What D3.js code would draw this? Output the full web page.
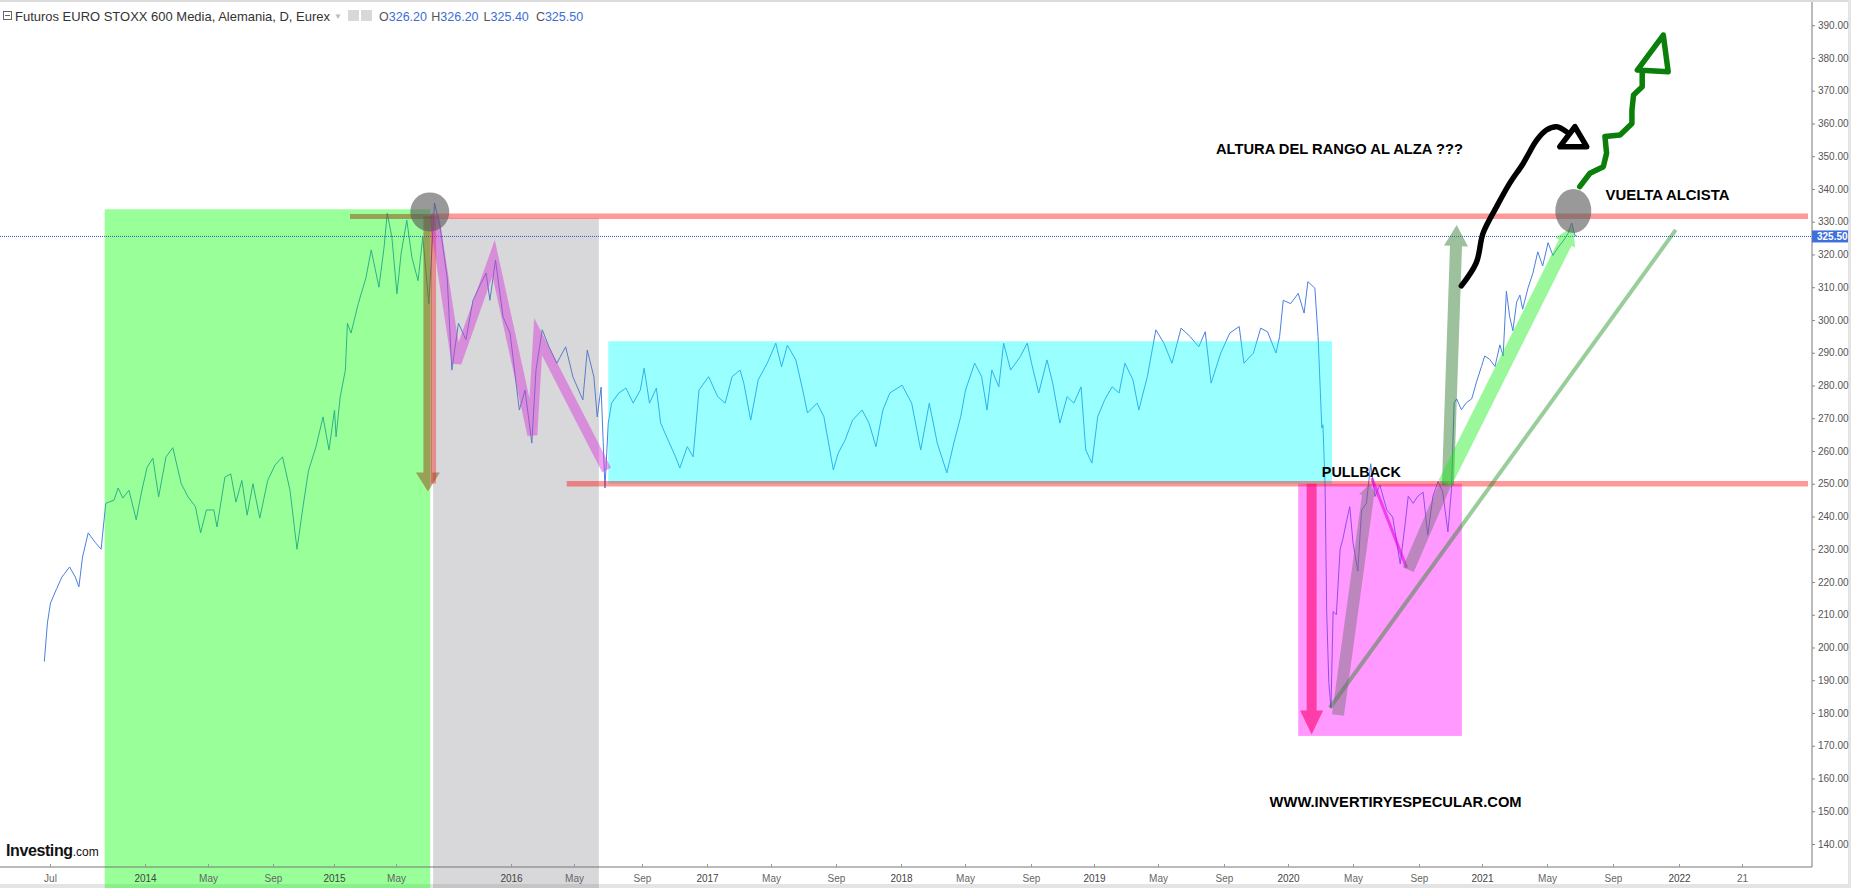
<!DOCTYPE html>
<html>
<head>
<meta charset="utf-8">
<script src="https://cdn.jsdelivr.net/npm/d3@7"></script>
<style>
  html, body { margin: 0; padding: 0; background: #fff; overflow: hidden; }
  svg { display: block; font-family: "Liberation Sans", Arial, sans-serif; }
</style>
</head>
<body>
<svg id="chart" width="1851" height="888"></svg>
<script>
// ---- values ----
const closes = [
  ["2013-06-20",195.7],["2013-06-26",207.5],["2013-07-02",213.6],["2013-07-14",218],["2013-07-24",221.5],
  ["2013-08-08",224.6],["2013-08-19",221.5],["2013-08-26",218.5],["2013-09-02",227.6],["2013-09-13",235],
  ["2013-09-27",232],["2013-10-08",230],["2013-10-17",244],["2013-11-02",245],["2013-11-10",248.7],
  ["2013-11-19",245.6],["2013-12-01",248],["2013-12-15",239],["2013-12-26",248],["2014-01-05",255],
  ["2014-01-16",257.8],["2014-01-27",246],["2014-02-10",258.2],["2014-02-23",261],["2014-03-11",250],
  ["2014-03-24",246],["2014-04-07",243],["2014-04-17",235],["2014-04-28",242],["2014-05-12",242],
  ["2014-05-18",236.8],["2014-06-02",252],["2014-06-13",253],["2014-06-23",244.4],["2014-07-04",251],
  ["2014-07-14",240.4],["2014-07-25",250],["2014-08-07",239.5],["2014-08-22",251],["2014-09-05",255.7],
  ["2014-09-20",258.2],["2014-10-05",248],["2014-10-19",230],["2014-10-31",243],["2014-11-11",254],
  ["2014-11-26",261.3],["2014-12-10",270.4],["2014-12-22",260.3],["2015-01-02",272.5],["2015-01-05",264.3],
  ["2015-01-13",276.5],["2015-01-23",284.7],["2015-01-27",299],["2015-02-03",296],["2015-02-17",305],
  ["2015-03-04",313],["2015-03-14",321.4],["2015-03-29",310],["2015-04-08",322.3],["2015-04-14",332.6],
  ["2015-04-23",325.3],["2015-05-03",308],["2015-05-12",320.4],["2015-05-24",330.5],["2015-06-04",319],
  ["2015-06-17",312],["2015-06-27",325.3],["2015-07-10",305],["2015-07-22",335.7],["2015-08-03",328.4],
  ["2015-08-18",313],["2015-08-28",284.7],["2015-09-11",299],["2015-09-27",294],["2015-10-12",306],
  ["2015-10-29",311.2],["2015-11-09",314.3],["2015-11-17",306],["2015-11-29",318.3],["2015-12-15",301],
  ["2015-12-30",296],["2016-01-17",272.5],["2016-01-28",278.6],["2016-02-10",262.4],["2016-02-18",284.7],
  ["2016-03-01",297],["2016-03-14",291.8],["2016-03-29",286.8],["2016-04-15",291.8],["2016-04-29",282.6],
  ["2016-05-17",275.6],["2016-05-25",290.8],["2016-06-06",282.6],["2016-06-12",270.4],["2016-06-19",279.5],
  ["2016-06-26",248.7],["2016-07-02",268.5],["2016-07-08",274.6],["2016-07-21",277.7],["2016-08-03",279.2],
  ["2016-08-16",274.6],["2016-08-29",278.6],["2016-09-05",285.3],["2016-09-15",274.6],["2016-09-28",279.2],
  ["2016-10-06",268.5],["2016-10-20",263.3],["2016-11-03",258.2],["2016-11-11",254.8],["2016-11-25",261.3],
  ["2016-12-06",258.2],["2016-12-17",278.6],["2017-01-04",282.7],["2017-01-21",276.6],["2017-02-04",274.6],
  ["2017-02-17",282.7],["2017-03-04",284.7],["2017-03-11",280.7],["2017-03-24",269.4],["2017-04-07",281.7],
  ["2017-04-24",286.8],["2017-05-10",292.9],["2017-05-21",285.7],["2017-06-01",292.3],["2017-06-17",287.8],
  ["2017-06-30",278.6],["2017-07-09",271.6],["2017-07-27",274.6],["2017-08-09",270.5],["2017-08-27",254.2],
  ["2017-09-05",259.3],["2017-09-18",263.3],["2017-10-02",269.4],["2017-10-20",272.5],["2017-11-02",268.5],
  ["2017-11-15",261.3],["2017-11-28",272.5],["2017-12-11",277.7],["2018-01-03",280.1],["2018-01-21",274.6],
  ["2018-02-07",260.3],["2018-02-23",274.6],["2018-03-10",262.4],["2018-03-28",253.3],["2018-04-10",262.4],
  ["2018-04-23",270.5],["2018-05-02",278.6],["2018-05-19",286.8],["2018-06-01",282.7],["2018-06-11",272.5],
  ["2018-06-20",284.7],["2018-07-03",279.6],["2018-07-12",292.9],["2018-07-25",284.7],["2018-08-12",288.8],
  ["2018-08-25",292.9],["2018-09-02",286.8],["2018-09-16",277.7],["2018-10-02",287.8],["2018-10-13",280.7],
  ["2018-10-27",268.5],["2018-11-10",276.6],["2018-11-23",274.6],["2018-12-07",279.6],["2018-12-16",260.3],
  ["2018-12-28",256.3],["2019-01-08",270.5],["2019-01-21",275.6],["2019-02-04",279.6],["2019-02-17",277.7],
  ["2019-02-28",286.8],["2019-03-15",281.7],["2019-03-26",272.5],["2019-04-11",282.7],["2019-04-27",297],
  ["2019-05-12",292.9],["2019-05-27",286.8],["2019-06-13",297.5],["2019-06-30",294.9],["2019-07-16",291.8],
  ["2019-07-28",296.4],["2019-08-08",280.7],["2019-08-26",289.9],["2019-09-12",296],["2019-09-30",298],
  ["2019-10-09",286.8],["2019-10-27",289.9],["2019-11-10",297.5],["2019-11-23",296.4],["2019-12-09",289.9],
  ["2019-12-16",294.9],["2019-12-23",306],["2020-01-06",305],["2020-01-20",308.1],["2020-01-31",302.1],
  ["2020-02-07",311.7],["2020-02-20",309.7],["2020-02-26",294.9],["2020-03-04",267],["2020-03-06",268],
  ["2020-03-10",249.6],["2020-03-13",211.2],["2020-03-17",189.3],["2020-03-21",181.6],["2020-03-25",211],
  ["2020-03-31",210],["2020-04-07",230],["2020-04-12",233],["2020-04-19",238.6],["2020-04-25",243],
  ["2020-05-01",232],["2020-05-10",223.3],["2020-05-17",242],["2020-05-26",244],["2020-06-03",256.1],
  ["2020-06-11",246.2],["2020-06-20",249.6],["2020-07-03",242],["2020-07-14",239.8],["2020-07-28",225.5],
  ["2020-08-06",237.5],["2020-08-12",246.2],["2020-08-21",244],["2020-08-30",246.2],["2020-09-09",247.4],
  ["2020-09-18",234.3],["2020-09-28",246.2],["2020-10-08",250.7],["2020-10-17",247.4],["2020-10-27",235.3],
  ["2020-11-03",248.5],["2020-11-08",274.8],["2020-11-13",275.9],["2020-11-22",272.6],["2020-12-02",274.8],
  ["2020-12-12",275.9],["2020-12-22",281.4],["2020-12-31",285.8],["2021-01-06",289],["2021-01-15",288],
  ["2021-01-25",285.8],["2021-02-03",292.4],["2021-02-09",289],["2021-02-15",308.8],["2021-02-21",301.1],
  ["2021-02-27",296.7],["2021-03-06",305.5],["2021-03-12",307.6],["2021-03-17",303.3],["2021-03-27",309.8],
  ["2021-04-05",314.3],["2021-04-14",320.8],["2021-04-23",316.5],["2021-05-03",323.6],["2021-05-12",319.7],
  ["2021-05-21",322],["2021-05-31",324.1],["2021-06-09",326.3],["2021-06-16",329.6],["2021-06-22",325.8],
  ["2021-06-26",325.5]
];

const tickDates = ["2013-07-01","2014-01-01","2014-05-01","2014-09-01","2015-01-01","2015-05-01",
  "2016-01-01","2016-05-01","2016-09-01","2017-01-01","2017-05-01","2017-09-01","2018-01-01",
  "2018-05-01","2018-09-01","2019-01-01","2019-05-01","2019-09-01","2020-01-01","2020-05-01",
  "2020-09-01","2021-01-01","2021-05-01","2021-09-01","2022-01-01","2022-05-01"];
const tickLabels = ["Jul","2014","May","Sep","2015","May","2016","May","Sep","2017","May","Sep","2018",
  "May","Sep","2019","May","Sep","2020","May","Sep","2021","May","Sep","2022","21"];
const priceTicks = d3.range(140, 391, 10);
const lastPrice = 325.5;
const title = "Futuros EURO STOXX 600 Media, Alemania, D, Eurex";
const ohlcKeys = ["O", "H", "L", "C"];
const ohlcValues = ["326.20", "326.20", "325.40", "325.50"];

// shaded zones: [from, to, low, high]
const zones = [
  ["2013-10-15", "2015-07-13", 126.5, 333.8],
  ["2015-07-19", "2016-06-15", 126.5, 331],
  ["2016-07-02", "2020-03-23", 250, 293.5],
  ["2020-01-20", "2020-11-23", 173, 250]
];
// horizontal levels: [start date, value]
const levels = [["2015-07-14", 331.7], ["2016-04-17", 250]];

// drawn annotations (date, value)
const zigzag = [["2015-07-21",332],["2015-09-07",286.9],["2015-11-25",318.9],["2016-02-11",264.9],
  ["2016-02-22",294.9],["2016-06-29",254.2]];
const arrows = [
  [["2015-07-08",331.7],["2015-07-08",247.6]],
  [["2020-02-14",250],["2020-02-14",173.4]],
  [["2020-04-03",179.4],["2020-06-01",250]],
  [["2020-08-12",223.8],["2020-10-24",250.7]],
  [["2020-10-27",249.6],["2020-11-13",329]],
  [["2020-10-21",250.1],["2021-06-19",328.5]]
];
const segments = [
  [["2015-02-01",331.6],["2015-07-20",331.6]],
  [["2015-07-20",331.5],["2015-07-20",250.1]],
  [["2020-06-05",251.7],["2020-08-09",224.3]],
  [["2020-03-19",181.6],["2021-12-26",327.5]]
];
const circles = [["2015-07-12",333],["2021-06-19",333.3]];
const blackPath = [["2020-11-22",310.4],["2020-12-21",317.5],["2021-01-03",326.5],["2021-01-28",334.6],
  ["2021-02-21",341.7],["2021-03-18",347.8],["2021-04-12",354.9],["2021-04-30",358],["2021-05-19",359],
  ["2021-06-06",357.5]];
const blackHead = [["2021-05-25",352.9],["2021-07-14",352.9],["2021-06-22",359]];
const greenPath = [["2021-07-01",340.7],["2021-07-20",344.8],["2021-08-14",346.8],["2021-08-20",350.9],
  ["2021-08-17",356],["2021-09-14",356.5],["2021-10-06",360],["2021-10-06",364.1],["2021-10-09",368.7],
  ["2021-10-25",371.2],["2021-10-25",376.3]];
const greenHead = [["2021-10-16",376.3],["2021-12-12",375.8],["2021-12-03",387]];
const notes = [
  ["ALTURA DEL RANGO AL ALZA  ???", "2019-08-17", 350.7],
  ["VUELTA ALCISTA", "2021-08-18", 336.6],
  ["PULLBACK", "2020-03-04", 252],
  ["WWW.INVERTIRYESPECULAR.COM", "2019-11-27", 151.3]
];

// ---- layout / styles ----
const W = 1851, H = 888;
const axisX = 1812, axisY = 867;
const tickPx = [50,145,208,273,334,396,511,574,642,707,771,836,901,965,1031,1094,1158,1224,1288,
  1353,1419,1482,1547,1613,1679,1742];
const zoneColors = ["rgba(0,255,0,0.4)", "rgba(120,120,128,0.29)", "rgba(0,255,255,0.4)", "rgba(255,0,255,0.4)"];
// arrow styles: [color, shaft width, head width, head length]
const arrowStyles = [
  ["rgba(150,70,20,0.5)", 9, 24, 19],
  ["rgba(255,0,110,0.6)", 10, 23, 24],
  ["rgba(110,110,110,0.45)", 12, 18, 12],
  ["rgba(110,110,110,0.45)", 12, 12, 2],
  ["rgba(60,130,60,0.5)", 12, 24, 21],
  ["rgba(30,240,30,0.45)", 14, 22, 18]
];
const segStyles = [
  ["rgba(150,70,20,0.5)", 5],
  ["rgba(255,0,0,0.35)", 5],
  ["rgba(230,0,230,0.6)", 3],
  ["rgba(0,130,0,0.4)", 4]
];
const noteWidths = [247, 124, 79, 252];

const parse = d3.timeParse("%Y-%m-%d");
const svg = d3.select("#chart");

var x = d3.scaleTime().domain(tickDates.map(parse)).range(tickPx);
var y = d3.scaleLinear().domain([140, 390]).range([844, 25.2]);
const pt = d => [x(parse(d[0])), y(d[1])];
const lineOf = () => d3.line().x(d => pt(d)[0]).y(d => pt(d)[1]);

// frame strips
svg.append("rect").attr("width", W).attr("height", H).attr("fill", "#fff");
svg.append("rect").attr("x", 0).attr("y", 0).attr("width", W).attr("height", 2).attr("fill", "#dcdcdc");
svg.append("rect").attr("x", 1848).attr("y", 0).attr("width", 3).attr("height", H).attr("fill", "#e4e4e4");
svg.append("rect").attr("x", 0).attr("y", 884).attr("width", W).attr("height", 4).attr("fill", "#e4e4e4");

// price line
svg.append("path")
  .datum(closes)
  .attr("fill", "none")
  .attr("stroke", "#4a80e0")
  .attr("stroke-width", 1)
  .attr("d", lineOf());

// zones on top of the line
svg.selectAll(".zone")
  .data(zones)
  .enter()
  .append("rect")
  .attr("x", d => x(parse(d[0])))
  .attr("width", d => x(parse(d[1])) - x(parse(d[0])))
  .attr("y", d => y(d[3]))
  .attr("height", d => y(d[2]) - y(d[3]))
  .attr("fill", (d, i) => zoneColors[i]);

// red levels
svg.selectAll(".level")
  .data(levels)
  .enter()
  .append("line")
  .attr("x1", d => x(parse(d[0])))
  .attr("x2", axisX - 4)
  .attr("y1", d => y(d[1]))
  .attr("y2", d => y(d[1]))
  .attr("stroke", "rgba(255,0,0,0.4)")
  .attr("stroke-width", 5.5);

// last price dotted line
svg.append("line")
  .attr("x1", 0).attr("x2", axisX)
  .attr("y1", y(lastPrice)).attr("y2", y(lastPrice))
  .attr("stroke", "#2f55cc")
  .attr("stroke-width", 1)
  .attr("stroke-dasharray", "1,1");

// straight strokes
svg.selectAll(".seg")
  .data(segments)
  .enter()
  .append("line")
  .attr("x1", d => pt(d[0])[0]).attr("y1", d => pt(d[0])[1])
  .attr("x2", d => pt(d[1])[0]).attr("y2", d => pt(d[1])[1])
  .attr("stroke", (d, i) => segStyles[i][0])
  .attr("stroke-width", (d, i) => segStyles[i][1]);

// purple zigzag
svg.append("path")
  .datum(zigzag)
  .attr("fill", "none")
  .attr("stroke", "rgba(215,50,215,0.45)")
  .attr("stroke-width", 10)
  .attr("stroke-linejoin", "miter")
  .attr("d", lineOf());

// block arrows
function arrowShape(a, b, w, hw, hl) {
  const dx = b[0] - a[0], dy = b[1] - a[1], len = Math.hypot(dx, dy);
  const ux = dx / len, uy = dy / len, nx = -uy, ny = ux;
  const bx = b[0] - ux * hl, by = b[1] - uy * hl;
  return [
    [a[0] + nx * w / 2, a[1] + ny * w / 2],
    [bx + nx * w / 2, by + ny * w / 2],
    [bx + nx * hw / 2, by + ny * hw / 2],
    b,
    [bx - nx * hw / 2, by - ny * hw / 2],
    [bx - nx * w / 2, by - ny * w / 2],
    [a[0] - nx * w / 2, a[1] - ny * w / 2]
  ];
}
svg.selectAll(".arrow")
  .data(arrows)
  .enter()
  .append("polygon")
  .attr("points", (d, i) => arrowShape(pt(d[0]), pt(d[1]), arrowStyles[i][1], arrowStyles[i][2], arrowStyles[i][3]).join(" "))
  .attr("fill", (d, i) => arrowStyles[i][0]);

// grey circles
svg.selectAll(".dot")
  .data(circles)
  .enter()
  .append("ellipse")
  .attr("cx", d => pt(d)[0])
  .attr("cy", d => pt(d)[1])
  .attr("rx", (d, i) => i ? 18 : 19.5)
  .attr("ry", (d, i) => i ? 22 : 19.5)
  .attr("fill", "rgba(90,90,90,0.62)");

// hand drawn strokes
svg.append("path").datum(blackPath)
  .attr("d", lineOf().curve(d3.curveCatmullRom))
  .attr("fill", "none").attr("stroke", "#000").attr("stroke-width", 5.5).attr("stroke-linecap", "round");
svg.append("path").datum(blackHead)
  .attr("d", lineOf().curve(d3.curveLinearClosed))
  .attr("fill", "#fff").attr("stroke", "#000").attr("stroke-width", 5.5).attr("stroke-linejoin", "round");
svg.append("path").datum(greenPath)
  .attr("d", lineOf())
  .attr("fill", "none").attr("stroke", "#0a7f0a").attr("stroke-width", 5.5)
  .attr("stroke-linecap", "round").attr("stroke-linejoin", "round");
svg.append("path").datum(greenHead)
  .attr("d", lineOf().curve(d3.curveLinearClosed))
  .attr("fill", "#fff").attr("stroke", "#0a7f0a").attr("stroke-width", 5.5).attr("stroke-linejoin", "round");

// annotation texts
svg.selectAll(".note")
  .data(notes)
  .enter()
  .append("text")
  .attr("x", d => x(parse(d[1])))
  .attr("y", d => y(d[2]))
  .attr("textLength", (d, i) => noteWidths[i])
  .attr("lengthAdjust", "spacingAndGlyphs")
  .style("font-size", "14px")
  .style("font-weight", "bold")
  .style("fill", "#000")
  .text(d => d[0]);

// right price axis
svg.append("line")
  .attr("x1", axisX).attr("x2", axisX).attr("y1", 2).attr("y2", axisY)
  .attr("stroke", "#777");
var yAxis = svg.append("g")
  .attr("transform", "translate(" + axisX + ",0)")
  .call(d3.axisRight(y).tickValues(priceTicks).tickFormat(d3.format(".2f")).tickSize(3).tickPadding(3));
yAxis.select(".domain").remove();
yAxis.selectAll("line").attr("stroke", "#888");
yAxis.selectAll("text").style("font-size", "10px").style("fill", "#555")
  .style("font-family", "'Liberation Sans', Arial, sans-serif");

// last price tag
svg.append("rect")
  .attr("x", axisX).attr("y", y(lastPrice) - 6).attr("width", 36).attr("height", 12)
  .attr("fill", "#3f6fdc");
svg.append("text")
  .attr("x", axisX + 5).attr("y", y(lastPrice) + 3.5)
  .style("font-size", "10px").style("font-weight", "bold").style("fill", "#fff")
  .text(d3.format(".2f")(lastPrice));

// bottom time axis
svg.append("line")
  .attr("x1", 0).attr("x2", axisX).attr("y1", axisY).attr("y2", axisY)
  .attr("stroke", "#777");
var xAxis = svg.append("g")
  .attr("transform", "translate(0," + axisY + ")")
  .call(d3.axisBottom(x).tickValues(tickDates.map(parse)).tickFormat((d, i) => tickLabels[i]).tickSize(-3).tickPadding(8));
xAxis.select(".domain").remove();
xAxis.selectAll("line").attr("stroke", "#999");
xAxis.selectAll("text").style("font-size", "10px")
  .style("fill", (d, i) => /^\d{4}$/.test(tickLabels[i]) ? "#444" : "#666")
  .style("font-family", "'Liberation Sans', Arial, sans-serif");

// header
var head = svg.append("g");
head.append("rect").attr("x", 3.5).attr("y", 11.5).attr("width", 8).attr("height", 8)
  .attr("fill", "none").attr("stroke", "#666");
head.append("line").attr("x1", 5).attr("x2", 10).attr("y1", 15.5).attr("y2", 15.5).attr("stroke", "#666");
head.append("text")
  .attr("x", 15).attr("y", 20.5)
  .attr("textLength", 315).attr("lengthAdjust", "spacingAndGlyphs")
  .style("font-size", "13px").style("fill", "#333")
  .text(title);
head.append("text").attr("x", 334).attr("y", 19).style("font-size", "8px").style("fill", "#bbb").text("\u25BC");
head.append("rect").attr("x", 348).attr("y", 10).attr("width", 11).attr("height", 11).attr("fill", "#d8d8d8");
head.append("rect").attr("x", 361).attr("y", 10).attr("width", 11).attr("height", 11).attr("fill", "#d8d8d8");
head.selectAll(".ohlc")
  .data(ohlcKeys)
  .enter()
  .append("text")
  .attr("x", (d, i) => 379 + i * 52.3)
  .attr("y", 20.5)
  .style("font-size", "12.5px")
  .each(function (d, i) {
    d3.select(this).append("tspan").style("fill", "#555").text(d);
    d3.select(this).append("tspan").style("fill", "#3b6ed5").text(ohlcValues[i]);
  });

// investing logo
var logo = svg.append("text").attr("x", 6).attr("y", 856).style("fill", "#111");
logo.append("tspan").style("font-size", "16px").style("font-weight", "bold").style("letter-spacing", "-0.4px").text("Investing");
logo.append("tspan").style("font-size", "12px").text(".com");
</script>
</body>
</html>
